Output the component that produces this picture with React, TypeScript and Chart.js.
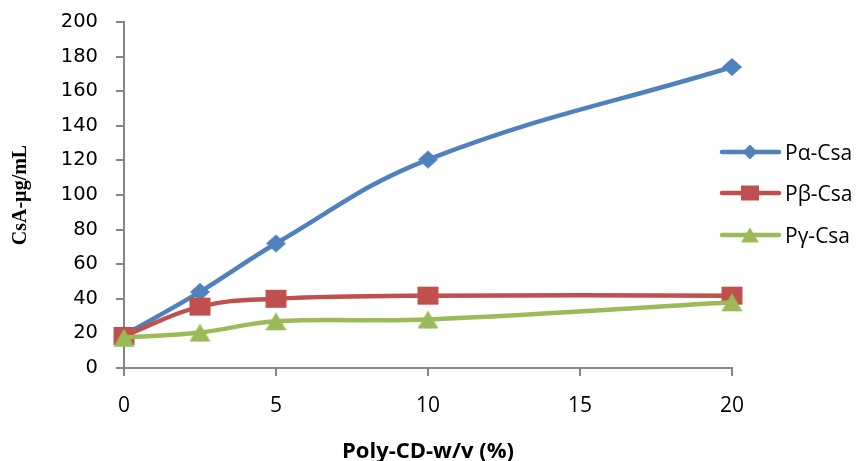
import React, { useEffect, useRef } from "react";
import { Chart, registerables } from "chart.js";

Chart.register(...registerables);

const xValues = [0, 2.5, 5, 10, 20];
const alphaValues = [19, 44, 72, 120.5, 174];
const betaValues = [18.5, 35.5, 40, 41.8, 41.8];
const gammaValues = [17.5, 20.5, 27, 28, 38];
const seriesLabels = ["Pα-Csa", "Pβ-Csa", "Pγ-Csa"];
const seriesColors = ["#4F81BD", "#C0504D", "#9BBB59"];
const xTitle = "Poly-CD-w/v (%)";
const yTitle = "CsA-µg/mL";

const AXIS = "#868686";

function markerPath(ctx: CanvasRenderingContext2D, shape: string, cx: number, cy: number, w: number, h: number) {
  ctx.beginPath();
  if (shape === "diamond") {
    ctx.moveTo(cx - w / 2, cy);
    ctx.lineTo(cx, cy - h / 2);
    ctx.lineTo(cx + w / 2, cy);
    ctx.lineTo(cx, cy + h / 2);
  } else if (shape === "square") {
    ctx.rect(cx - w / 2, cy - h / 2, w, h);
  } else {
    ctx.moveTo(cx, cy - h / 2);
    ctx.lineTo(cx + w / 2, cy + h / 2);
    ctx.lineTo(cx - w / 2, cy + h / 2);
  }
  ctx.closePath();
}

function makeMarker(shape: string, w: number, h: number, color: string) {
  const c = document.createElement("canvas");
  c.width = w + 2;
  c.height = h + 2;
  const ctx = c.getContext("2d")!;
  ctx.fillStyle = color;
  markerPath(ctx, shape, c.width / 2, c.height / 2, w, h);
  ctx.fill();
  return c;
}

const shapes = ["diamond", "square", "triangle"];
const legendSizes = [
  [15, 15],
  [18, 15],
  [18, 15],
];

const legendPlugin = {
  id: "customLegend",
  afterDraw(chart: any) {
    const ctx = chart.ctx as CanvasRenderingContext2D;
    const ys = [152, 193, 235];
    chart.data.datasets.forEach((ds: any, i: number) => {
      const y = ys[i];
      ctx.save();
      ctx.strokeStyle = ds.borderColor;
      ctx.lineWidth = 4.5;
      ctx.lineCap = "round";
      ctx.beginPath();
      ctx.moveTo(722, y);
      ctx.lineTo(779, y);
      ctx.stroke();
      ctx.fillStyle = ds.borderColor;
      markerPath(ctx, shapes[i], 750, y, legendSizes[i][0], legendSizes[i][1]);
      ctx.fill();
      ctx.fillStyle = "#000";
      ctx.font = "21px 'Open Sans'";
      ctx.textBaseline = "middle";
      ctx.textAlign = "left";
      ctx.fillText(ds.label, 785, y + 2);
      ctx.restore();
    });
  },
};

export default function App() {
  const ref = useRef<HTMLCanvasElement | null>(null);
  useEffect(() => {
    if (!ref.current) return;
    const mk = (vals: number[]) => xValues.map((x, i) => ({ x, y: vals[i] }));
    const common = {
      borderWidth: 4.5,
      borderCapStyle: "round",
      borderJoinStyle: "round",
      tension: 0.4,
      pointRadius: 9,
      fill: false,
      clip: false,
    };
    const chart = new Chart(ref.current, {
      type: "line",
      data: {
        datasets: [
          {
            ...common,
            label: seriesLabels[0],
            data: mk(alphaValues),
            borderColor: seriesColors[0],
            backgroundColor: seriesColors[0],
            pointStyle: makeMarker("diamond", 20, 18, seriesColors[0]),
            order: 3,
          },
          {
            ...common,
            label: seriesLabels[1],
            data: mk(betaValues),
            borderColor: seriesColors[1],
            backgroundColor: seriesColors[1],
            pointStyle: makeMarker("square", 21, 18, seriesColors[1]),
            order: 2,
          },
          {
            ...common,
            label: seriesLabels[2],
            data: mk(gammaValues),
            borderColor: seriesColors[2],
            backgroundColor: seriesColors[2],
            pointStyle: makeMarker("triangle", 21, 18, seriesColors[2]),
            order: 1,
          },
        ] as any,
      },
      options: {
        animation: false,
        responsive: false,
        events: [],
        layout: { padding: { top: 22, right: 127, left: 0, bottom: 0 } },
        plugins: { legend: { display: false }, tooltip: { enabled: false } },
        scales: {
          x: {
            type: "linear",
            min: 0,
            max: 20,
            ticks: { stepSize: 5, color: "#000", padding: 17, font: { family: "'Open Sans'", size: 21 } },
            grid: { drawOnChartArea: false, drawTicks: true, tickLength: 8, color: AXIS, lineWidth: 2 },
            border: { color: AXIS, width: 2 },
            title: {
              display: true,
              text: xTitle,
              color: "#000",
              font: { family: "'Open Sans'", size: 22, weight: "bold", lineHeight: 0.8 },
              padding: { top: 0, bottom: 0 },
            },
            afterFit(scale: any) {
              scale.height = 93;
            },
          },
          y: {
            min: 0,
            max: 200,
            ticks: { stepSize: 20, color: "#000", padding: 18, font: { family: "'DejaVu Sans'", size: 19.5 } },
            grid: { drawOnChartArea: false, drawTicks: true, tickLength: 8, color: AXIS, lineWidth: 2 },
            border: { color: AXIS, width: 2 },
            title: {
              display: true,
              text: yTitle,
              color: "#000",
              font: { family: "'Liberation Serif'", size: 20, weight: "bold" },
              padding: { top: 9, bottom: 0 },
            },
            afterFit(scale: any) {
              scale.width = 124;
              scale.paddingTop = 0;
              scale.paddingBottom = 0;
            },
          },
        },
      } as any,
      plugins: [legendPlugin],
    });
    return () => chart.destroy();
  }, []);
  return (
    <div style={{ position: "absolute", left: 0, top: 0, width: 859, height: 461, background: "#fff" }}>
      <canvas ref={ref} width={859} height={461} />
    </div>
  );
}
